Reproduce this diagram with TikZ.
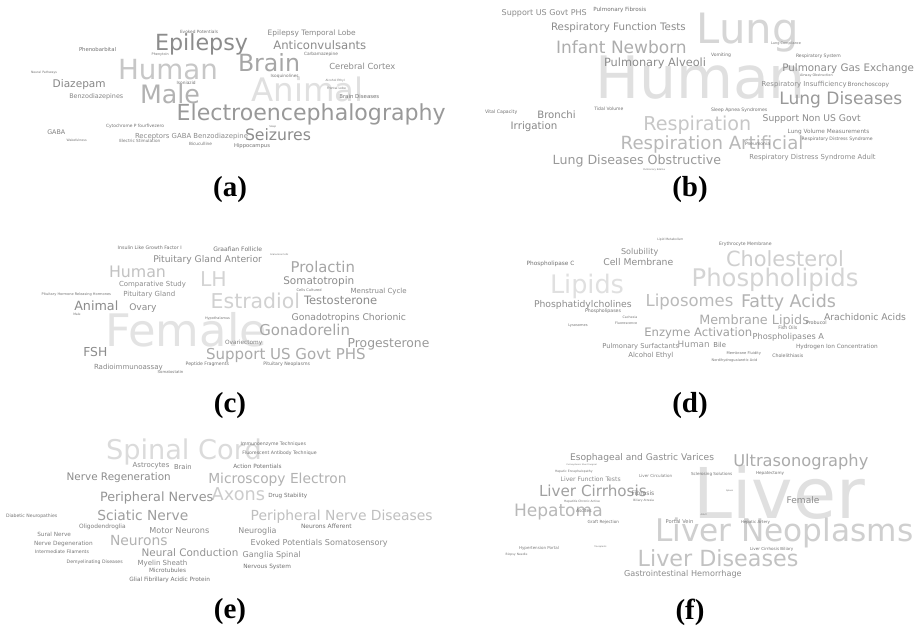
\documentclass[tikz,border=0pt]{standalone}
\usepackage{fontspec}
\usepackage{graphicx}
\setmainfont{DejaVu Sans}
\newfontfamily\lblfont{Liberation Serif}
\newcounter{wnum}
\newcommand\wcw[5]{\stepcounter{wnum}\node[word,text=black!#4] (w\thewnum) at (#1,#2) {\resizebox{#3pt}{!}{#5}};}
\begin{document}
\begin{tikzpicture}[x=1pt,y=-1pt,
  word/.style={anchor=base west,inner sep=0pt,outer sep=0pt},
  lbl/.style={anchor=center,inner sep=0pt,font=\lblfont\bfseries\fontsize{29}{29}\selectfont}]
\useasboundingbox (0,0) rectangle (921,630);
\fill[white] (0,0) rectangle (921,630);
% ---------------- (a)
\wcw{251.7}{101.7}{112}{12}{Animal}
\wcw{118}{79.3}{100}{22}{Human}
\wcw{140}{103.3}{60}{30}{Male}
\wcw{180}{33.3}{38}{55}{Evoked Potentials}
\wcw{155}{50}{93}{45}{Epilepsy}
\wcw{79}{51.7}{37}{55}{Phenobarbital}
\wcw{151.7}{55}{17}{55}{Phenytoin}
\wcw{238}{71.7}{62}{35}{Brain}
\wcw{31}{73.3}{26}{55}{Neural Pathways}
\wcw{52.7}{87.7}{53}{47}{Diazepam}
\wcw{176.7}{84}{19}{55}{Isoniazid}
\wcw{69.3}{98.7}{54}{47}{Benzodiazepines}
\wcw{176.7}{120}{269}{40}{Electroencephalography}
\wcw{245}{140.7}{66}{45}{Seizures}
\wcw{269.3}{127.3}{7}{55}{Sleep}
\wcw{106}{127.3}{58}{55}{Cytochrome P fourfivezero}
\wcw{47.3}{134.3}{18}{50}{GABA}
\wcw{135}{138.3}{113}{45}{Receptors GABA Benzodiazepine}
\wcw{66.7}{141.7}{20}{55}{Wakefulness}
\wcw{119.3}{142.7}{41}{55}{Electric Stimulation}
\wcw{189}{145}{23}{55}{Bicuculline}
\wcw{234}{147.7}{36}{55}{Hippocampus}
\wcw{267.7}{35}{88}{47}{Epilepsy Temporal Lobe}
\wcw{273.3}{49.3}{93}{45}{Anticonvulsants}
\wcw{304}{55.7}{34}{55}{Carbamazepine}
\wcw{329.3}{69.3}{66}{45}{Cerebral Cortex}
\wcw{270.7}{77.7}{28}{55}{Isoquinolines}
\wcw{325.7}{81}{19}{55}{Alcohol Ethyl}
\wcw{327}{89.3}{19}{55}{Frontal Lobe}
\wcw{339.3}{98.3}{40}{55}{Brain Diseases}
% ---------------- (b)
\wcw{595}{98}{211}{12}{Human}
\wcw{696.7}{43.3}{102}{16}{Lung}
\wcw{643.3}{130}{108}{22}{Respiration}
\wcw{620.7}{149}{182.7}{28}{Respiration Artificial}
\wcw{501.7}{15.7}{85}{45}{Support US Govt PHS}
\wcw{593.3}{11}{53}{55}{Pulmonary Fibrosis}
\wcw{551}{30.7}{134.7}{45}{Respiratory Function Tests}
\wcw{556}{53.3}{130.7}{32}{Infant Newborn}
\wcw{604}{66}{102}{45}{Pulmonary Alveoli}
\wcw{711}{56}{20}{55}{Vomiting}
\wcw{771}{44.3}{30}{55}{Lung Compliance}
\wcw{796}{57.3}{44.7}{55}{Respiratory System}
\wcw{782.3}{71.7}{131.7}{45}{Pulmonary Gas Exchange}
\wcw{800}{76.7}{32.7}{55}{Airway Obstruction}
\wcw{761.7}{86}{85}{45}{Respiratory Insufficiency}
\wcw{847.7}{86.7}{41.3}{50}{Bronchoscopy}
\wcw{779.3}{104}{123}{40}{Lung Diseases}
\wcw{711}{111}{56.3}{55}{Sleep Apnea Syndromes}
\wcw{762.7}{121.7}{98}{45}{Support Non US Govt}
\wcw{787.7}{133.3}{81.7}{50}{Lung Volume Measurements}
\wcw{801.7}{140}{71}{55}{Respiratory Distress Syndrome}
\wcw{745}{145}{25}{55}{Pneumonia}
\wcw{749.3}{159}{126.3}{45}{Respiratory Distress Syndrome Adult}
\wcw{485}{113.3}{32.3}{55}{Vital Capacity}
\wcw{537.3}{118.3}{38.3}{47}{Bronchi}
\wcw{594.3}{110.7}{29}{55}{Tidal Volume}
\wcw{510.7}{129.3}{46.7}{47}{Irrigation}
\wcw{552.7}{164}{168.3}{40}{Lung Diseases Obstructive}
\wcw{643.3}{170}{21.7}{55}{Pulmonary Edema}
% ---------------- (c)
\wcw{105}{346.7}{162}{11}{Female}
\wcw{210.7}{308.3}{89.3}{18}{Estradiol}
\wcw{200}{286.7}{26.7}{17}{LH}
\wcw{109}{277.3}{57}{24}{Human}
\wcw{117.7}{249.3}{64}{55}{Insulin Like Growth Factor I}
\wcw{213.3}{251.7}{48.7}{55}{Graafian Follicle}
\wcw{270}{255}{18.3}{55}{Granulosa Cells}
\wcw{153.3}{262.3}{108.7}{45}{Pituitary Gland Anterior}
\wcw{290.7}{272.3}{64.3}{35}{Prolactin}
\wcw{283.3}{284.3}{71}{45}{Somatotropin}
\wcw{119}{286}{67}{45}{Comparative Study}
\wcw{41.7}{295}{69.3}{55}{Pituitary Hormone Releasing Hormones}
\wcw{123.3}{296.7}{52}{45}{Pituitary Gland}
\wcw{296.7}{291}{25}{55}{Cells Cultured}
\wcw{350.7}{293.3}{56}{47}{Menstrual Cycle}
\wcw{304}{304.3}{73.3}{45}{Testosterone}
\wcw{74.3}{310}{44}{45}{Animal}
\wcw{129.3}{310}{27.3}{45}{Ovary}
\wcw{73.3}{315.7}{7.3}{55}{Male}
\wcw{205}{319}{25}{55}{Hypothalamus}
\wcw{291.7}{320}{114.3}{45}{Gonadotropins Chorionic}
\wcw{259.3}{335}{90.7}{35}{Gonadorelin}
\wcw{225}{344}{37.3}{50}{Ovariectomy}
\wcw{347.7}{347.3}{81.7}{40}{Progesterone}
\wcw{83.3}{356.7}{24}{45}{FSH}
\wcw{206}{359}{159.7}{33}{Support US Govt PHS}
\wcw{94}{369}{68.7}{47}{Radioimmunoassay}
\wcw{185.7}{365.7}{43.3}{55}{Peptide Fragments}
\wcw{263.3}{365.7}{46.7}{55}{Pituitary Neoplasms}
\wcw{157.7}{373.3}{25.7}{55}{Somatostatin}
% ---------------- (d)
\wcw{550}{293.3}{74}{12}{Lipids}
\wcw{691.7}{286.7}{166.7}{17}{Phospholipids}
\wcw{726}{266}{118}{19}{Cholesterol}
\wcw{657.3}{240}{26}{55}{Lipid Metabolism}
\wcw{719}{245}{52.7}{55}{Erythrocyte Membrane}
\wcw{621}{254.3}{37.3}{45}{Solubility}
\wcw{603.3}{265}{70}{45}{Cell Membrane}
\wcw{526.7}{265}{47.7}{55}{Phospholipase C}
\wcw{534}{307.3}{97.7}{45}{Phosphatidylcholines}
\wcw{645.7}{306.7}{87.7}{27}{Liposomes}
\wcw{741}{307.3}{95}{30}{Fatty Acids}
\wcw{585}{312.7}{36}{55}{Phospholipases}
\wcw{622.7}{318}{14.7}{55}{Cachexia}
\wcw{615}{324}{22.3}{55}{Fluorescence}
\wcw{568.3}{326}{19.3}{55}{Lysosomes}
\wcw{699.3}{324.3}{109.7}{33}{Membrane Lipids}
\wcw{824}{320}{82}{45}{Arachidonic Acids}
\wcw{806}{324.3}{20.7}{55}{Probucol}
\wcw{778.3}{329}{19}{55}{Fish Oils}
\wcw{644.3}{336}{108}{37}{Enzyme Activation}
\wcw{752.7}{339.3}{71.3}{45}{Phospholipases A}
\wcw{602.3}{348.3}{76.7}{47}{Pulmonary Surfactants}
\wcw{677.7}{347.3}{32}{40}{Human}
\wcw{713.3}{347.3}{12.7}{50}{Bile}
\wcw{726.7}{354}{34.3}{55}{Membrane Fluidity}
\wcw{796}{348.3}{81.7}{50}{Hydrogen Ion Concentration}
\wcw{628.3}{357.7}{45}{47}{Alcohol Ethyl}
\wcw{772.3}{357.3}{31}{55}{Cholelithiasis}
\wcw{711.7}{361}{45.7}{55}{Nordihydroguaiaretic Acid}
% ---------------- (e)
\wcw{106}{459}{155.7}{14}{Spinal Cord}
\wcw{211.7}{500.7}{53.3}{20}{Axons}
\wcw{240.7}{445}{65.3}{55}{Immunoenzyme Techniques}
\wcw{242.3}{454}{74.3}{55}{Fluorescent Antibody Technique}
\wcw{132.7}{467.3}{36.7}{47}{Astrocytes}
\wcw{174}{469}{17.7}{50}{Brain}
\wcw{233.3}{468.3}{48.3}{55}{Action Potentials}
\wcw{66.7}{480.7}{104}{45}{Nerve Regeneration}
\wcw{208.3}{483.3}{138.3}{30}{Microscopy Electron}
\wcw{268.3}{497.3}{39}{55}{Drug Stability}
\wcw{100}{501.7}{113.3}{42}{Peripheral Nerves}
\wcw{250.7}{520}{182}{25}{Peripheral Nerve Diseases}
\wcw{6}{517.7}{51.3}{55}{Diabetic Neuropathies}
\wcw{97.3}{520.7}{91}{38}{Sciatic Nerve}
\wcw{79}{528.3}{46.7}{50}{Oligodendroglia}
\wcw{301}{528.3}{50.7}{55}{Neurons Afferent}
\wcw{149.3}{533.3}{60}{45}{Motor Neurons}
\wcw{238.3}{533.3}{38.3}{45}{Neuroglia}
\wcw{37.3}{536.7}{33.7}{50}{Sural Nerve}
\wcw{110}{545}{57.7}{30}{Neurons}
\wcw{250.7}{545}{137}{45}{Evoked Potentials Somatosensory}
\wcw{34}{545}{58.7}{50}{Nerve Degeneration}
\wcw{35}{553.7}{54}{55}{Intermediate Filaments}
\wcw{141.7}{556.7}{96.7}{42}{Neural Conduction}
\wcw{242.7}{557.3}{58}{45}{Ganglia Spinal}
\wcw{66.7}{563}{56}{55}{Demyelinating Diseases}
\wcw{137.7}{565}{49.7}{47}{Myelin Sheath}
\wcw{243.3}{568.3}{47.7}{55}{Nervous System}
\wcw{149}{572.7}{37}{55}{Microtubules}
\wcw{129.3}{581.7}{80.7}{55}{Glial Fibrillary Acidic Protein}
% ---------------- (f)
\wcw{693.3}{518.3}{171.7}{12}{Liver}
\wcw{655}{541.7}{258.3}{19}{Liver Neoplasms}
\wcw{637.7}{566.7}{160.7}{24}{Liver Diseases}
\wcw{514}{516.7}{88.7}{28}{Hepatoma}
\wcw{570}{460.7}{144}{45}{Esophageal and Gastric Varices}
\wcw{733.3}{466}{135}{33}{Ultrasonography}
\wcw{566.7}{465.7}{30}{55}{Portosystemic Shunt Surgical}
\wcw{555}{472}{37.7}{55}{Hepatic Encephalopathy}
\wcw{639}{477}{33.3}{50}{Liver Circulation}
\wcw{691}{475.7}{41.3}{55}{Sclerosing Solutions}
\wcw{756}{474.7}{28}{55}{Hepatectomy}
\wcw{560.7}{481}{60}{45}{Liver Function Tests}
\wcw{539}{496.7}{107.7}{37}{Liver Cirrhosis}
\wcw{631.7}{495}{22.7}{50}{Fibrosis}
\wcw{633.3}{501}{20.7}{55}{Biliary Atresia}
\wcw{564}{502.3}{36}{55}{Hepatitis Chronic Active}
\wcw{576}{512.7}{15.7}{55}{Ascites}
\wcw{587.7}{523.3}{31.3}{55}{Graft Rejection}
\wcw{665.7}{523.3}{27.7}{50}{Portal Vein}
\wcw{741}{523.3}{29}{55}{Hepatic Artery}
\wcw{786.7}{503.3}{32.7}{45}{Female}
\wcw{726}{491}{7.3}{55}{Spleen}
\wcw{700.7}{515.7}{6}{55}{Adult}
\wcw{519}{549}{40}{50}{Hypertension Portal}
\wcw{594.3}{547.3}{12.3}{55}{Transplants}
\wcw{505.7}{555}{21.7}{55}{Biopsy Needle}
\wcw{750}{550}{43.3}{55}{Liver Cirrhosis Biliary}
\wcw{624}{576}{117.7}{45}{Gastrointestinal Hemorrhage}
% ---------------- labels
\node[lbl] (la) at (230,190) {(a)};
\node[lbl] (lb) at (690,190) {(b)};
\node[lbl] (lc) at (230,406) {(c)};
\node[lbl] (ld) at (690,406) {(d)};
\node[lbl] (le) at (230,612) {(e)};
\node[lbl] (lf) at (690,612) {(f)};
\end{tikzpicture}
\end{document}
